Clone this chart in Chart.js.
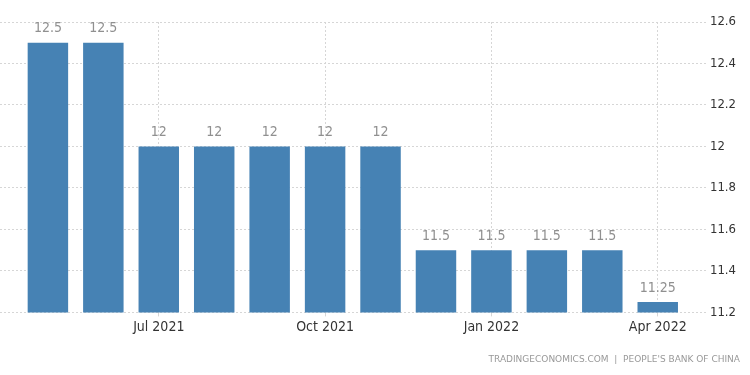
<!DOCTYPE html>
<html>
<head>
<meta charset="utf-8">
<script src="https://cdn.jsdelivr.net/npm/chart.js@4"></script>
<style>
  html, body { margin: 0; padding: 0; background: #fff; }
  #wrap { width: 750px; height: 375px; }
</style>
</head>
<body>
<div id="wrap"><canvas id="myChart"></canvas></div>
<script>
// months shown as bars
var months = ["May 2021", "Jun 2021", "Jul 2021", "Aug 2021", "Sep 2021", "Oct 2021",
              "Nov 2021", "Dec 2021", "Jan 2022", "Feb 2022", "Mar 2022", "Apr 2022"];
var rates = [12.5, 12.5, 12, 12, 12, 12, 12, 11.5, 11.5, 11.5, 11.5, 11.25];
// which months get a label on the x axis
var tickMonths = ["Jul 2021", "Oct 2021", "Jan 2022", "Apr 2022"];
var yTicks = [11.2, 11.4, 11.6, 11.8, 12, 12.2, 12.4, 12.6];
var source = "TRADINGECONOMICS.COM  |  PEOPLE'S BANK OF CHINA";

var narrow = "'Liberation Sans Narrow', 'DejaVu Sans Condensed', 'Liberation Sans'";

var points = [];
for (var i = 0; i < rates.length; i++) {
  points.push({ x: i, y: rates[i] });
}

// value labels above the bars
var barLabels = {
  id: "barLabels",
  afterDatasetsDraw: function (chart) {
    var ctx = chart.ctx;
    var meta = chart.getDatasetMeta(0);
    ctx.save();
    ctx.font = "14px " + narrow;
    ctx.fillStyle = "#909090";
    ctx.textAlign = "center";
    ctx.textBaseline = "bottom";
    meta.data.forEach(function (bar, i) {
      ctx.fillText(String(rates[i]), bar.x, bar.y - 7);
    });
    ctx.restore();
  }
};

var gridColor = "#d6d6d6";

var myChart = document.getElementById("myChart").getContext("2d");
var chart = new Chart(myChart, {
  type: "bar",
  data: {
    datasets: [
      {
        data: points,
        backgroundColor: "#4682b4",
        borderWidth: 0,
        categoryPercentage: 1,
        barPercentage: 0.73
      }
    ]
  },
  options: {
    responsive: true,
    maintainAspectRatio: false,
    animation: false,
    layout: { padding: { top: 22, right: 10, left: 0, bottom: 10 } },
    plugins: {
      legend: { display: false },
      tooltip: { enabled: false },
      title: {
        display: true,
        text: source,
        position: "bottom",
        align: "end",
        color: "#999",
        font: { family: "'DejaVu Sans'", size: 9, weight: "normal" },
        padding: { top: 15, bottom: 0 }
      }
    },
    scales: {
      x: {
        type: "linear",
        offset: false,
        min: -0.864,
        max: 11.87,
        afterBuildTicks: function (scale) {
          scale.ticks = tickMonths.map(function (m) {
            return { value: months.indexOf(m) };
          });
        },
        ticks: {
          autoSkip: false,
          maxRotation: 0,
          color: "#333",
          font: { family: narrow, size: 14 },
          padding: 3,
          callback: function (value) { return months[value]; }
        },
        grid: {
          offset: false,
          color: gridColor,
          tickColor: gridColor,
          tickLength: 4,
          drawOnChartArea: true
        },
        border: { display: false, dash: [2, 2] }
      },
      y: {
        position: "right",
        min: yTicks[0],
        max: yTicks[yTicks.length - 1],
        afterBuildTicks: function (scale) {
          scale.ticks = yTicks.map(function (v) { return { value: v }; });
        },
        ticks: {
          color: "#333",
          font: { family: narrow, size: 13 },
          padding: 4,
          callback: function (value) { return value.toFixed(1).replace(/\.0$/, ""); }
        },
        grid: {
          color: gridColor,
          drawTicks: false
        },
        border: { display: false, dash: [2, 2] }
      }
    }
  },
  plugins: [barLabels]
});
</script>
</body>
</html>
